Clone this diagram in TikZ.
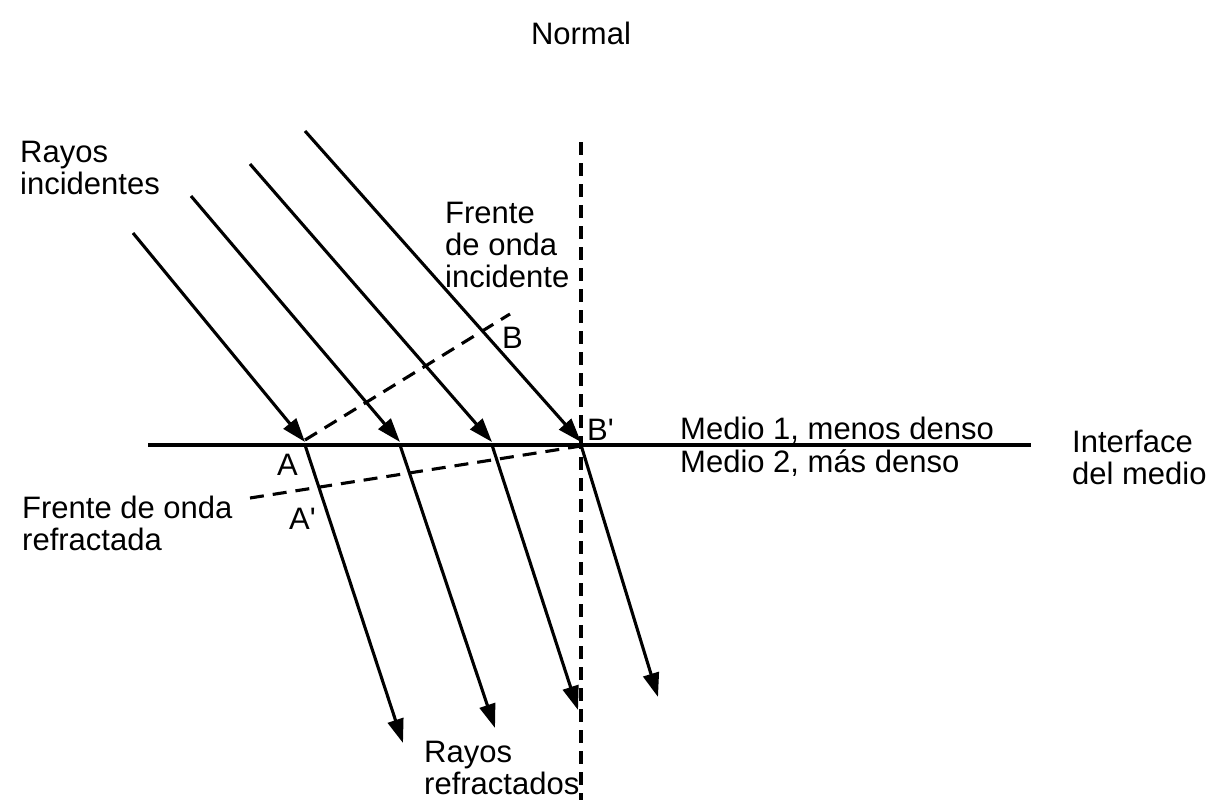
\documentclass[tikz,border=0pt]{standalone}
\usepackage{fontspec}
\setmainfont{Liberation Sans}
\usetikzlibrary{arrows.meta}
\begin{document}
\begin{tikzpicture}[x=1pt,y=-1pt,
  ray/.style={line width=3.1pt,-{Triangle[length=24pt,width=16pt]}},
  front/.style={line width=3.1pt,dash pattern=on 14pt off 9pt},
  normalline/.style={line width=3.1pt,dash pattern=on 13pt off 8pt},
  plain/.style={line width=3.1pt},
  lbl/.style={font=\fontsize{31}{32}\selectfont,inner sep=0pt,anchor=base west,align=left}]
\useasboundingbox (0,0) rectangle (1226,800);
% key points
\coordinate (ifL) at (148,445);
\coordinate (ifR) at (1031,445);
\coordinate (nT) at (581,142);
\coordinate (nB) at (581,800);
\coordinate (s1) at (133,233);
\coordinate (s2) at (191,196);
\coordinate (s3) at (250,164);
\coordinate (s4) at (305,131);
\coordinate (p1) at (305,445);
\coordinate (p2) at (400,445);
\coordinate (p3) at (492,445);
\coordinate (p4) at (581,445);
\coordinate (r1) at (403,743);
\coordinate (r2) at (495,728);
\coordinate (r3) at (578,710);
\coordinate (r4) at (658,697);
\coordinate (wfA) at (305,440);
\coordinate (wfB) at (510,314);
\coordinate (wrL) at (250,498);
\coordinate (wrR) at (581,446);
% lines
\draw[plain] (ifL) -- (ifR);
\draw[normalline] (nT) -- (nB);
\draw[front] (wfA) -- (wfB);
\draw[front] (wrL) -- (wrR);
\foreach \i in {1,2,3,4}{
  \draw[ray] (s\i) -- ([yshift=3pt]p\i);
  \draw[ray] (p\i) -- (r\i);
}
% labels (base anchor = baseline of last line)
\node[lbl,anchor=base] (normal) at (581,45) {Normal};
\node[lbl] (rinc) at (20,194) {Rayos\\incidentes};
\node[lbl] (finc) at (445,287) {Frente\\de onda\\incidente};
\node[lbl] (lB) at (502,348) {B};
\node[lbl] (lBp) at (587,440) {B\textquotesingle};
\node[lbl] (lA) at (277,475) {A};
\node[lbl] (lAp) at (289,529) {A\textquotesingle};
\node[lbl] (m1) at (680,439) {Medio 1, menos denso};
\node[lbl] (m2) at (680,472) {Medio 2, más denso};
\node[lbl] (intf) at (1072,484) {Interface\\del medio};
\node[lbl] (fref) at (22,550) {Frente de onda\\refractada};
\node[lbl] (rref) at (424,794) {Rayos\\refractados};
\end{tikzpicture}
\end{document}
